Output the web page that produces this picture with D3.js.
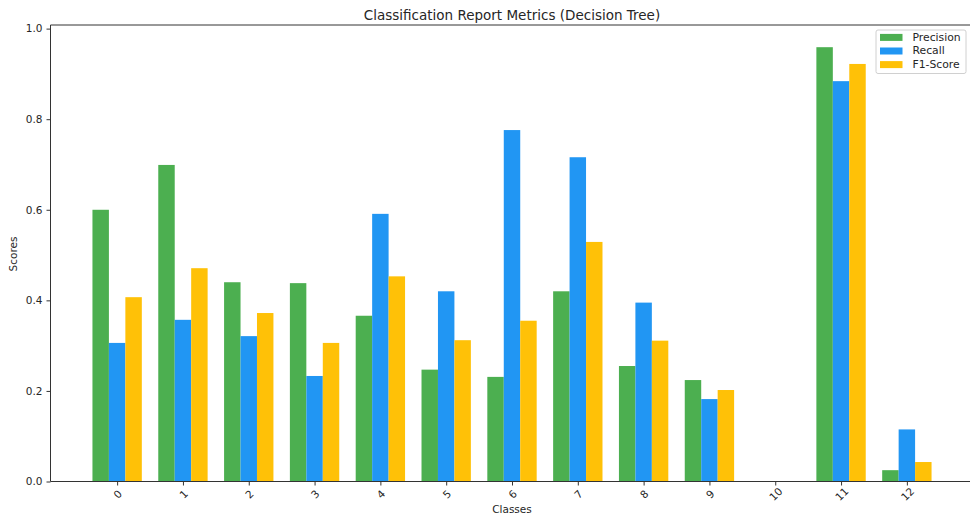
<!DOCTYPE html>
<html>
<head>
<meta charset="utf-8">
<script src="https://cdn.jsdelivr.net/npm/d3@7"></script>
<style>
  html, body { margin: 0; padding: 0; background: #fff; }
  svg { display: block; }
  text { font-family: "DejaVu Sans", sans-serif; fill: #262626; }
</style>
</head>
<body>
<script>
const classes = ["0","1","2","3","4","5","6","7","8","9","10","11","12"];
const precision = [0.600, 0.699, 0.440, 0.438, 0.366, 0.247, 0.231, 0.420, 0.255, 0.224, 0.0, 0.959, 0.025];
const recall    = [0.306, 0.357, 0.321, 0.233, 0.591, 0.420, 0.776, 0.716, 0.395, 0.182, 0.0, 0.884, 0.115];
const f1score   = [0.407, 0.471, 0.372, 0.306, 0.453, 0.312, 0.355, 0.529, 0.311, 0.202, 0.0, 0.922, 0.043];
const seriesNames = ["Precision", "Recall", "F1-Score"];
const seriesColors = ["#4CAF50", "#2196F3", "#FFC107"];
const yTicks = [0.0, 0.2, 0.4, 0.6, 0.8, 1.0];
const title = "Classification Report Metrics (Decision Tree)";

const W = 970, H = 515;
const svg = d3.select("body").append("svg").attr("width", W).attr("height", H);

const barW = 0.25;
const x = d3.scaleLinear().domain([-1.0125, 13.0125]).range([50.5, 973.5]);
const y = d3.scaleLinear().domain([0, 1.008]).range([481.5, 25]);

const series = [precision, recall, f1score];
const offsets = [-barW, 0, barW];

series.forEach((vals, si) => {
  svg.append("g").selectAll("rect").data(vals).enter().append("rect")
    .attr("x", (d, i) => x(i + offsets[si] - barW / 2))
    .attr("width", x(barW) - x(0))
    .attr("y", d => y(d))
    .attr("height", d => y(0) - y(d))
    .attr("fill", seriesColors[si]);
});

// spines
const axCol = "#333";
svg.append("line").attr("x1", 50.5).attr("x2", 973.5).attr("y1", 25).attr("y2", 25).attr("stroke", axCol).attr("stroke-width", 1);
svg.append("line").attr("x1", 50.5).attr("x2", 973.5).attr("y1", 481.5).attr("y2", 481.5).attr("stroke", axCol).attr("stroke-width", 1);
svg.append("line").attr("x1", 50.5).attr("x2", 50.5).attr("y1", 25).attr("y2", 481.5).attr("stroke", axCol).attr("stroke-width", 1);

// y axis
const yAxis = d3.axisLeft(y).tickValues(yTicks).tickFormat(d3.format(".1f")).tickSize(4).tickPadding(4);
const gy = svg.append("g").attr("transform", "translate(50.5,0)").call(yAxis);
gy.select(".domain").remove();
gy.selectAll(".tick line").attr("stroke", axCol);
gy.selectAll(".tick text").attr("font-size", "10.5px").attr("font-family", "DejaVu Sans, sans-serif").attr("fill", "#262626");

// x axis
const xAxis = d3.axisBottom(x).tickValues(d3.range(classes.length)).tickFormat(i => classes[i]).tickSize(4);
const gx = svg.append("g").attr("transform", "translate(0,481.5)").call(xAxis);
gx.select(".domain").remove();
gx.selectAll(".tick line").attr("stroke", axCol);
gx.selectAll(".tick text")
  .attr("font-size", "10.5px").attr("font-family", "DejaVu Sans, sans-serif").attr("fill", "#262626")
  .attr("y", 0).attr("dy", null)
  .attr("text-anchor", "middle").attr("dominant-baseline", "central")
  .attr("transform", "translate(0,12.5) rotate(-45)");

// labels
svg.append("text").attr("x", 512).attr("y", 19.5).attr("text-anchor", "middle").attr("font-size", "13.5px").text(title);
svg.append("text").attr("x", 512).attr("y", 513).attr("text-anchor", "middle").attr("font-size", "10.5px").text("Classes");
svg.append("text").attr("transform", "translate(16.5,254) rotate(-90)").attr("text-anchor", "middle").attr("font-size", "10.5px").text("Scores");

// legend
const lg = svg.append("g");
lg.append("rect").attr("x", 876).attr("y", 30).attr("width", 90).attr("height", 43.5).attr("rx", 2)
  .attr("fill", "#fff").attr("fill-opacity", 0.8).attr("stroke", "#d0d0d0").attr("stroke-width", 1);
seriesNames.forEach((n, i) => {
  const cy = 37.2 + i * 13.6;
  lg.append("rect").attr("x", 880).attr("y", cy - 3.3).attr("width", 22.5).attr("height", 7).attr("fill", seriesColors[i]);
  lg.append("text").attr("x", 912.5).attr("y", cy).attr("dominant-baseline", "central").attr("font-size", "10.8px").text(n);
});
</script>
</body>
</html>
